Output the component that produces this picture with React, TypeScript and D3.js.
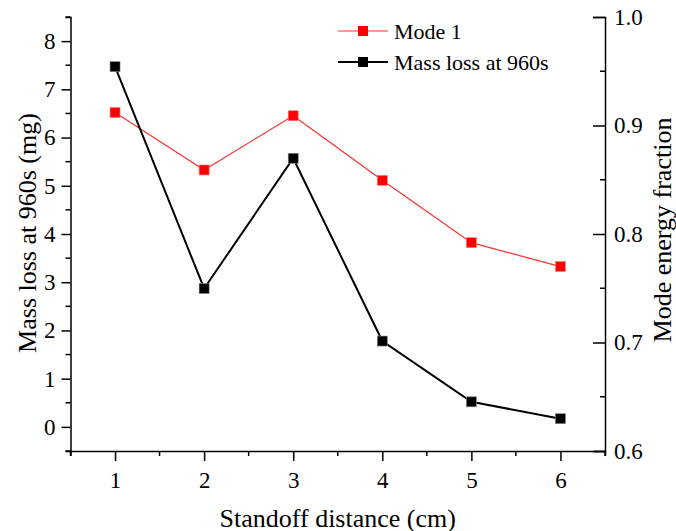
import React, { useEffect, useRef } from "react";
import * as d3 from "d3";

const distances = [1, 2, 3, 4, 5, 6];
const massLoss = [7.47, 2.87, 5.57, 1.78, 0.52, 0.17];
const modeEnergy = [0.912, 0.859, 0.909, 0.8495, 0.792, 0.770];
const xTicks = [1, 2, 3, 4, 5, 6];
const yLeftTicks = [0, 1, 2, 3, 4, 5, 6, 7, 8];
const yRightTicks = [0.6, 0.7, 0.8, 0.9, 1.0];
const seriesNames = ["Mode 1", "Mass loss at 960s"];

const W = 676;
const H = 531;
const FONT = "Liberation Serif, Times New Roman, Times, DejaVu Serif, serif";

export default function App() {
  const ref = useRef<SVGSVGElement>(null);

  useEffect(() => {
    const svg = d3.select(ref.current);
    svg.selectAll("*").remove();

    const left = 70.5, right = 605, top = 17, bottom = 451;
    const x = d3.scaleLinear().domain([0.5, 6.5]).range([left, right]);
    const yL = d3.scaleLinear().domain([-0.5, 8.5]).range([bottom, top]);
    const yR = d3.scaleLinear().domain([0.6, 1.0]).range([bottom, top]);

    const axisStyle = (g: any) => {
      g.attr("font-family", null).attr("font-size", null);
      g.selectAll("path").attr("stroke", "#000").attr("stroke-width", 1.5);
      g.selectAll("line").attr("stroke", "#000").attr("stroke-width", 1.5);
      g.selectAll("text").style("font-family", FONT).style("font-size", "23px").attr("fill", "#000");
    };

    const minorX = d3.range(0.5, 6.51, 0.5).filter((v) => !xTicks.includes(v));
    const minorYL = d3.range(-0.5, 8.51, 0.5).filter((v) => !yLeftTicks.includes(v));
    const minorYR = d3.range(0.65, 1.0, 0.1);

    const gx = svg.append("g").attr("transform", `translate(0,${bottom})`)
      .call(d3.axisBottom(x).tickValues(xTicks).tickFormat(d3.format("d")).tickSize(10).tickSizeOuter(5).tickPadding(11));
    axisStyle(gx);
    gx.selectAll(".minor").data(minorX).enter().append("line")
      .attr("x1", (d) => x(d)).attr("x2", (d) => x(d)).attr("y1", 0).attr("y2", 5)
      .attr("stroke", "#000").attr("stroke-width", 1.5);

    const gl = svg.append("g").attr("transform", `translate(${left},0)`)
      .call(d3.axisLeft(yL).tickValues(yLeftTicks).tickFormat(d3.format("d")).tickSize(9).tickSizeOuter(5).tickPadding(6));
    axisStyle(gl);
    gl.selectAll(".minor").data(minorYL).enter().append("line")
      .attr("x1", 0).attr("x2", -5).attr("y1", (d) => yL(d)).attr("y2", (d) => yL(d))
      .attr("stroke", "#000").attr("stroke-width", 1.5);

    const gr = svg.append("g").attr("transform", `translate(${right},0)`)
      .call(d3.axisRight(yR).tickValues(yRightTicks).tickFormat(d3.format(".1f")).tickSize(-12).tickSizeOuter(-12).tickPadding(9));
    axisStyle(gr);
    gr.selectAll(".minor").data(minorYR).enter().append("line")
      .attr("x1", 0).attr("x2", -5).attr("y1", (d) => yR(d)).attr("y2", (d) => yR(d))
      .attr("stroke", "#000").attr("stroke-width", 1.5);
    gr.selectAll(".tick text").attr("x", 9);

    const title = (t: any) => t.style("font-family", FONT).style("font-size", "26px")
      .attr("text-anchor", "middle").attr("dominant-baseline", "central").attr("fill", "#000");

    svg.append("text").attr("x", (left + right) / 2).attr("y", 518)
      .call(title).text("Standoff distance (cm)");
    svg.append("text").attr("transform", `translate(27,233) rotate(-90)`)
      .call(title).text("Mass loss at 960s (mg)");
    svg.append("text").attr("transform", `translate(662,230) rotate(-90)`)
      .call(title).text("Mode energy fraction");

    const pts = (ys: number[], sc: any) => distances.map((d, i) => [x(d), sc(ys[i])] as [number, number]);
    const line = d3.line();

    const redPts = pts(modeEnergy, yR);
    svg.append("path").attr("d", line(redPts)).attr("fill", "none")
      .attr("stroke", "#ff3030").attr("stroke-width", 1.2);
    svg.selectAll(".rm").data(redPts).enter().append("rect")
      .attr("x", (d) => d[0] - 5).attr("y", (d) => d[1] - 5).attr("width", 10).attr("height", 10)
      .attr("fill", "#ff0000").attr("stroke", "#ff8080").attr("stroke-width", 0.6);

    const blackPts = pts(massLoss, yL);
    svg.append("path").attr("d", line(blackPts)).attr("fill", "none")
      .attr("stroke", "#000").attr("stroke-width", 2);
    svg.selectAll(".bm").data(blackPts).enter().append("rect")
      .attr("x", (d) => d[0] - 5).attr("y", (d) => d[1] - 5).attr("width", 10).attr("height", 10)
      .attr("fill", "#000").attr("stroke", "#888").attr("stroke-width", 0.6);

    const legend = [
      { name: seriesNames[0], color: "#ff3030", fill: "#ff0000", w: 1.2, y: 31 },
      { name: seriesNames[1], color: "#000", fill: "#000", w: 2, y: 62 },
    ];
    legend.forEach((l) => {
      svg.append("line").attr("x1", 338).attr("x2", 388).attr("y1", l.y).attr("y2", l.y)
        .attr("stroke", l.color).attr("stroke-width", l.w);
      svg.append("rect").attr("x", 358).attr("y", l.y - 5).attr("width", 10).attr("height", 10)
        .attr("fill", l.fill);
      svg.append("text").attr("x", 394).attr("y", l.y).attr("dominant-baseline", "central")
        .style("font-family", FONT).style("font-size", "22px").attr("fill", "#000").text(l.name);
    });
  }, []);

  return (
    <div style={{ position: "absolute", left: 0, top: 0 }}>
      <svg ref={ref} width={W} height={H} style={{ display: "block", background: "#fff" }} />
    </div>
  );
}
